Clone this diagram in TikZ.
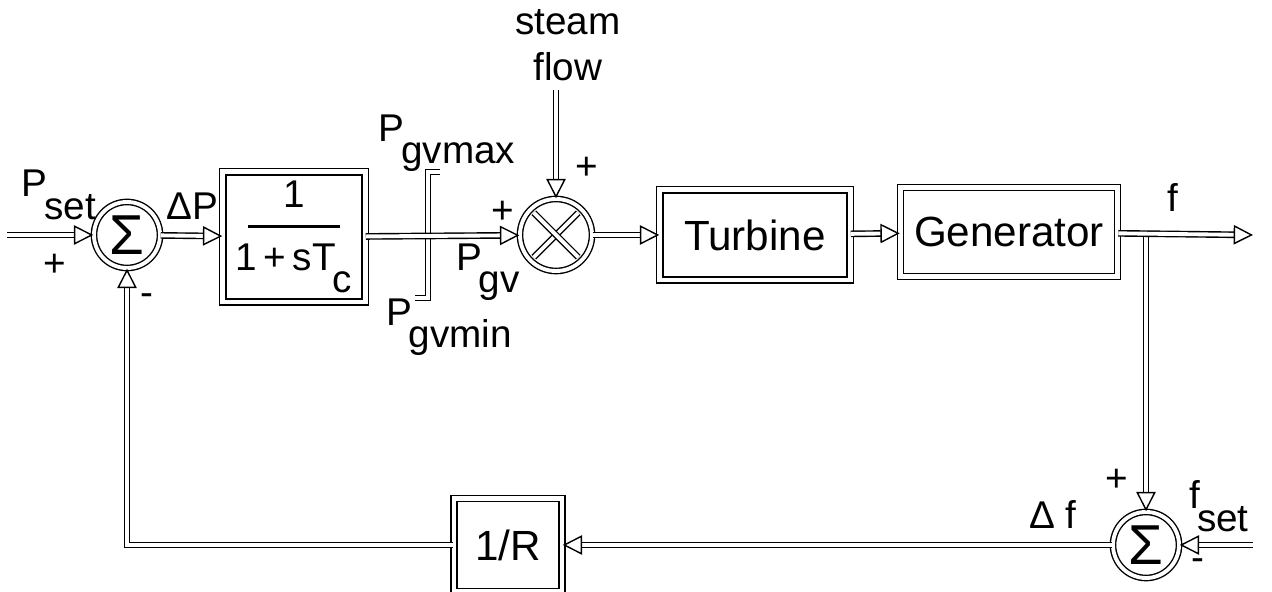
\documentclass[tikz,border=0pt]{standalone}
\usepackage{fontspec}
\setmainfont{Liberation Sans}
\usetikzlibrary{arrows.meta}
\newcommand{\lowsub}[2]{#1\kern-0.08em\raisebox{-1.1ex}{#2}}

\begin{document}
\begin{tikzpicture}[
  x=0.01cm, y=-0.01cm,
  wire/.style={double, double distance=1.1pt, line width=0.4pt},
  arrow/.style={wire, -{Triangle[open, length=5.5pt, width=5.5pt]}},
  blockbox/.style={
    draw, double, double distance=1.4pt, line width=0.4pt,
    align=center, inner sep=0pt, font=\fontsize{12}{13}\selectfont
  },
  sumcirc/.style={
    draw, circle, double, double distance=1.1pt, line width=0.4pt,
    minimum size=0.66cm, inner sep=0pt, font=\fontsize{16}{16}\selectfont
  },
  sig/.style={font=\fontsize{11}{13}\selectfont, inner sep=1pt}
]
\useasboundingbox (0,0) rectangle (1272,592);

% forward path
\node[sumcirc] (sum1) at (127, 235) {Σ};
\node[blockbox, minimum width=1.42cm, minimum height=1.3cm,
  font=\fontsize{11}{12}\selectfont] (gov) at (294, 237)
  {1\\[-6pt]\rule{0.92cm}{0.8pt}\\1\,+\,s\lowsub{T}{c}};
\node[sumcirc, minimum size=0.72cm] (mult) at (556, 235) {};
\node[blockbox, minimum width=1.9cm, minimum height=0.9cm] (turb) at (755, 235) {Turbine};
\node[blockbox, minimum width=2.17cm, minimum height=0.89cm] (gen) at (1009, 232) {Generator};

% feedback path
\node[sumcirc] (sum2) at (1146, 545) {Σ};
\node[blockbox, minimum width=1.08cm, minimum height=0.93cm] (rbox) at (508, 545) {1/R};

\coordinate (pin) at (7, 235);
\coordinate (fout) at (1253, 235);
\coordinate (tap) at (1146, 235);
\coordinate (fin) at (1253, 545);
\coordinate (steamin) at (556, 90);

% multiplier cross and limiter
\draw[wire, shorten >=1.5pt, shorten <=1.5pt] (mult.45) -- (mult.225);
\draw[wire, shorten >=1.5pt, shorten <=1.5pt] (mult.135) -- (mult.-45);
\draw[wire] (440, 172) -- (428, 172) -- (428, 298) -- (415, 298);

\draw[arrow] (pin) -- (sum1);
\draw[arrow] (sum1) -- (gov);
\draw[arrow] (gov) -- (mult);
\draw[arrow] (steamin) -- (mult);
\draw[arrow] (mult) -- (turb);
\draw[arrow] (turb) -- (gen);
\draw[arrow] (tap) -- (sum2);
\draw[arrow] (gen) -- (fout);
\draw[arrow] (fin) -- (sum2);
\draw[arrow] (sum2) -- (rbox);
\draw[arrow] (rbox) -| (sum1);

% signal labels
\node[sig] (pset) at (59, 195) {\lowsub{P}{set}};
\node[sig] (pl1) at (55, 265) {+};
\node[sig] (mi1) at (147, 300) {-};
\node[sig] (dp) at (192, 206) {ΔP};
\node[sig] (pmax) at (447, 143) {\lowsub{P}{gvmax}};
\node[sig] (pgv) at (488, 272) {\lowsub{P}{gv}};
\node[sig] (pmin) at (449, 327) {\lowsub{P}{gvmin}};
\node[sig] (pl2) at (503, 212) {+};
\node[sig] (pl3) at (587, 168) {+};
\node[sig, align=center] (steam) at (568, 45) {steam\\flow};
\node[sig] (flbl) at (1173, 198) {f};
\node[sig] (pl4) at (1117, 480) {+};
\node[sig] (df) at (1053, 515) {Δ f};
\node[sig] (fset) at (1219, 506) {\lowsub{f}{set}};
\node[sig] (mi2) at (1198, 565) {-};

\end{tikzpicture}
\end{document}
